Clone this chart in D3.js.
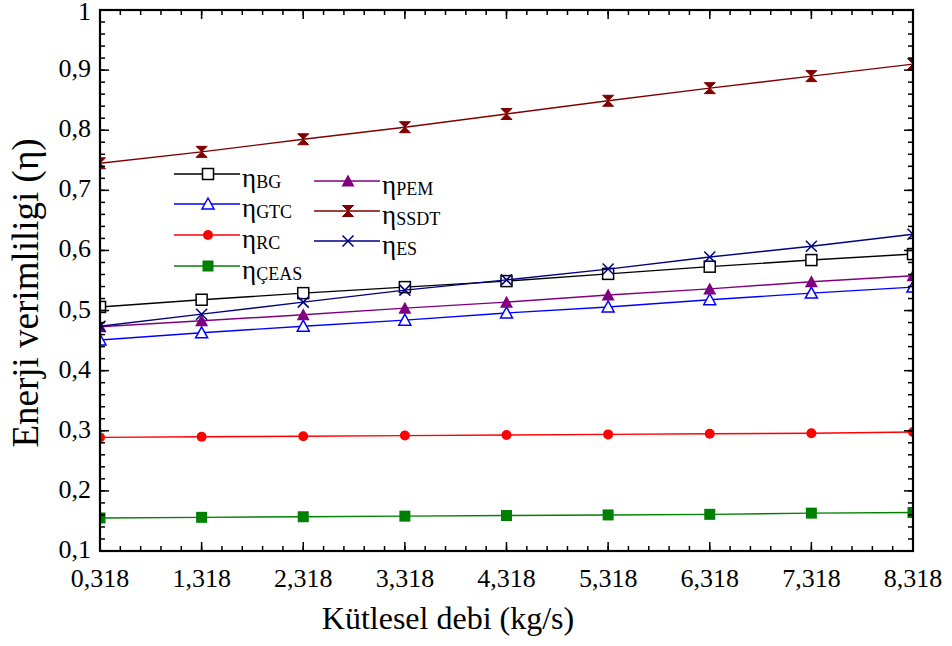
<!DOCTYPE html>
<html>
<head>
<meta charset="utf-8">
<script src="https://cdn.jsdelivr.net/npm/d3@7"></script>
<style>
  html, body { margin: 0; padding: 0; background: #fff; }
  svg { display: block; font-family: "Liberation Serif", "Times New Roman", serif; }
</style>
</head>
<body>
<svg id="chart" width="952" height="646"></svg>
<script>
// Mass flow rate values (kg/s)
const massFlow = [0.318, 1.318, 2.318, 3.318, 4.318, 5.318, 6.318, 7.318, 8.318];
const xTickLabels = ["0,318", "1,318", "2,318", "3,318", "4,318", "5,318", "6,318", "7,318", "8,318"];
const yTicks = [0.1, 0.2, 0.3, 0.4, 0.5, 0.6, 0.7, 0.8, 0.9, 1];
const yTickLabels = ["0,1", "0,2", "0,3", "0,4", "0,5", "0,6", "0,7", "0,8", "0,9", "1"];

// Energy efficiency of each subsystem
const etaBG   = [0.506, 0.518, 0.529, 0.539, 0.549, 0.561, 0.573, 0.584, 0.594];
const etaGTC  = [0.451, 0.463, 0.474, 0.484, 0.496, 0.506, 0.518, 0.529, 0.539];
const etaRC   = [0.289, 0.290, 0.291, 0.292, 0.293, 0.294, 0.295, 0.296, 0.298];
const etaCEAS = [0.155, 0.156, 0.157, 0.158, 0.159, 0.160, 0.161, 0.163, 0.164];
const etaPEM  = [0.473, 0.483, 0.493, 0.504, 0.514, 0.526, 0.536, 0.548, 0.558];
const etaSSDT = [0.745, 0.764, 0.785, 0.805, 0.827, 0.849, 0.870, 0.890, 0.910];
const etaES   = [0.474, 0.494, 0.514, 0.534, 0.551, 0.569, 0.589, 0.607, 0.627];

const seriesNames = ["BG", "GTC", "RC", "ÇEAS", "PEM", "SSDT", "ES"];

const series = [
  { name: "BG",   values: etaBG,   color: "#000000", marker: "squareOpen" },
  { name: "GTC",  values: etaGTC,  color: "#0000ff", marker: "triangleOpen" },
  { name: "RC",   values: etaRC,   color: "#ff0000", marker: "circle" },
  { name: "ÇEAS", values: etaCEAS, color: "#008000", marker: "square" },
  { name: "PEM",  values: etaPEM,  color: "#800080", marker: "triangle" },
  { name: "SSDT", values: etaSSDT, color: "#800000", marker: "hourglass" },
  { name: "ES",   values: etaES,   color: "#000080", marker: "cross" }
];

const svg = d3.select("#chart");
const margin = { left: 100, top: 10, right: 39, bottom: 95 };
const W = 952, H = 646;
const x0 = margin.left, x1 = W - margin.right;
const y0 = H - margin.bottom, y1 = margin.top;

const x = d3.scaleLinear().domain([0.318, 8.318]).range([x0, x1]);
const y = d3.scaleLinear().domain([0.1, 1]).range([y0, y1]);

// Clip region for the plot area
svg.append("defs").append("clipPath").attr("id", "plotClip")
  .append("rect").attr("x", x0).attr("y", y1).attr("width", x1 - x0).attr("height", y0 - y1);

// Marker drawing
function drawMarker(g, type, color, cx, cy) {
  const s = 5.5;
  switch (type) {
    case "squareOpen":
      g.append("rect").attr("x", cx - s).attr("y", cy - s).attr("width", 2 * s).attr("height", 2 * s)
        .attr("fill", "#fff").attr("stroke", color).attr("stroke-width", 1.5);
      break;
    case "square":
      g.append("rect").attr("x", cx - s).attr("y", cy - s).attr("width", 2 * s).attr("height", 2 * s)
        .attr("fill", color).attr("stroke", "none");
      break;
    case "circle":
      g.append("circle").attr("cx", cx).attr("cy", cy).attr("r", 5)
        .attr("fill", color).attr("stroke", "none");
      break;
    case "triangleOpen":
      g.append("path").attr("d", `M${cx},${cy - 6} L${cx + 6},${cy + 5} L${cx - 6},${cy + 5} Z`)
        .attr("fill", "#fff").attr("stroke", color).attr("stroke-width", 1.5);
      break;
    case "triangle":
      g.append("path").attr("d", `M${cx},${cy - 6.5} L${cx + 6.5},${cy + 5.5} L${cx - 6.5},${cy + 5.5} Z`)
        .attr("fill", color).attr("stroke", "none");
      break;
    case "hourglass":
      g.append("path").attr("d", `M${cx - 5.5},${cy - 5.5} L${cx + 5.5},${cy - 5.5} L${cx - 5.5},${cy + 5.5} L${cx + 5.5},${cy + 5.5} Z`)
        .attr("fill", color).attr("stroke", color).attr("stroke-width", 1);
      break;
    case "cross":
      g.append("path").attr("d", `M${cx - 5.5},${cy - 5.5} L${cx + 5.5},${cy + 5.5} M${cx + 5.5},${cy - 5.5} L${cx - 5.5},${cy + 5.5}`)
        .attr("fill", "none").attr("stroke", color).attr("stroke-width", 1.5);
      break;
  }
}

// Data lines and markers
const plot = svg.append("g").attr("clip-path", "url(#plotClip)");
const line = d3.line().x((d, i) => x(massFlow[i])).y(d => y(d));
series.forEach(s => {
  const g = plot.append("g");
  g.append("path").datum(s.values).attr("d", line)
    .attr("fill", "none").attr("stroke", s.color).attr("stroke-width", 1.4);
  s.values.forEach((v, i) => drawMarker(g, s.marker, s.color, x(massFlow[i]), y(v)));
});

// Ticks on all four sides, pointing inward
const minorX = d3.range(0, 41).map(i => 0.318 + i * 0.2);
const minorY = d3.range(0, 46).map(i => 0.1 + i * 0.02);
const tickG = svg.append("g").attr("stroke", "#000").attr("stroke-width", 1.5);

function addTicksX(vals, len) {
  vals.forEach(v => {
    const px = x(v);
    tickG.append("line").attr("x1", px).attr("x2", px).attr("y1", y0).attr("y2", y0 - len);
    tickG.append("line").attr("x1", px).attr("x2", px).attr("y1", y1).attr("y2", y1 + len);
  });
}
function addTicksY(vals, len) {
  vals.forEach(v => {
    const py = y(v);
    tickG.append("line").attr("x1", x0).attr("x2", x0 + len).attr("y1", py).attr("y2", py);
    tickG.append("line").attr("x1", x1).attr("x2", x1 - len).attr("y1", py).attr("y2", py);
  });
}
addTicksX(minorX, 5);
addTicksX(massFlow, 9);
addTicksY(minorY, 5);
addTicksY(yTicks, 9);

// Frame
svg.append("rect").attr("x", x0).attr("y", y1).attr("width", x1 - x0).attr("height", y0 - y1)
  .attr("fill", "none").attr("stroke", "#000").attr("stroke-width", 2.2);

// Tick labels
svg.append("g").selectAll("text").data(massFlow).join("text")
  .attr("x", d => x(d)).attr("y", y0 + 36)
  .attr("text-anchor", "middle").attr("font-size", 26).attr("fill", "#000")
  .text((d, i) => xTickLabels[i]);

svg.append("g").selectAll("text").data(yTicks).join("text")
  .attr("x", x0 - 9).attr("y", d => y(d) + (d === 1 ? 10 : 7))
  .attr("text-anchor", "end").attr("font-size", 26).attr("fill", "#000")
  .text((d, i) => yTickLabels[i]);

// Axis titles
svg.append("text").attr("x", 448).attr("y", 629)
  .attr("text-anchor", "middle").attr("font-size", 32).attr("fill", "#000")
  .text("Kütlesel debi (kg/s)");

svg.append("text").attr("transform", "translate(38,293) rotate(-90)")
  .attr("text-anchor", "middle").attr("font-size", 37).attr("fill", "#000")
  .text("Enerji verimliligi (η)");

// Legend in two columns
const legendPos = [
  { lx: 174, ly: 174 }, { lx: 174, ly: 204 }, { lx: 174, ly: 235 }, { lx: 174, ly: 266 },
  { lx: 314, ly: 181 }, { lx: 314, ly: 211 }, { lx: 314, ly: 241 }
];
const legend = svg.append("g");
series.forEach((s, i) => {
  const p = legendPos[i];
  const g = legend.append("g");
  g.append("line").attr("x1", p.lx).attr("x2", p.lx + 66).attr("y1", p.ly).attr("y2", p.ly)
    .attr("stroke", s.color).attr("stroke-width", 1.4);
  drawMarker(g, s.marker, s.color, p.lx + 34, p.ly);
  const t = g.append("text").attr("x", p.lx + 68).attr("y", p.ly + 13).attr("fill", "#000");
  t.append("tspan").attr("font-size", 27).text("η");
  t.append("tspan").attr("font-size", 18).attr("dy", 1).text(seriesNames[i]);
});
</script>
</body>
</html>
